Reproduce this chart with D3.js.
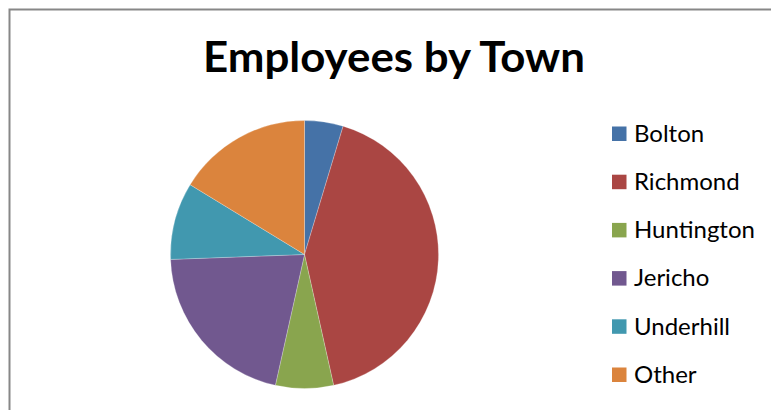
<!DOCTYPE html>
<html>
<head>
<meta charset="utf-8">
<script src="https://cdn.jsdelivr.net/npm/d3@7"></script>
<style>
  html, body { margin: 0; padding: 0; background: #fff; }
  svg { display: block; }
</style>
</head>
<body>
<svg id="chart" width="771" height="410"></svg>
<script>
const categories = ["Bolton", "Richmond", "Huntington", "Jericho", "Underhill", "Other"];
const values = [2, 18, 3, 9, 4, 7];
const colors = ["#4572A7", "#AA4643", "#89A54E", "#71588F", "#4198AF", "#DB843D"];
const title = "Employees by Town";

const svg = d3.select("#chart");
const W = 771, H = 410;

// frame
svg.append("rect")
  .attr("x", 9.5).attr("y", 9.5)
  .attr("width", W + 10).attr("height", H + 10)
  .attr("fill", "#fff")
  .attr("stroke", "#878787")
  .attr("stroke-width", 2);

svg.append("text")
  .attr("x", 203).attr("y", 72)
  .attr("font-family", "Lato, 'Open Sans', sans-serif")
  .attr("font-weight", "bold")
  .attr("font-size", 42)
  .attr("textLength", 382)
  .attr("lengthAdjust", "spacingAndGlyphs")
  .attr("fill", "#000")
  .text(title);

const data = categories.map((c, i) => ({ name: c, value: values[i], color: colors[i] }));
const pie = d3.pie().sort(null).value(d => d.value);
const arc = d3.arc().innerRadius(0).outerRadius(134);
const color = d3.scaleOrdinal().domain(categories).range(colors);

const g = svg.append("g").attr("transform", "translate(304.5,254.5)");
g.selectAll("path")
  .data(pie(data))
  .join("path")
  .attr("d", arc)
  .attr("fill", d => color(d.data.name))
  .attr("stroke", "#fff")
  .attr("stroke-width", 0.4)
  .attr("stroke-opacity", 0.6);

const legendY = d3.scalePoint().domain(categories).range([134, 375]);
const lg = svg.append("g");
const item = lg.selectAll("g")
  .data(categories)
  .join("g")
  .attr("transform", d => `translate(612,${legendY(d)})`);
item.append("rect")
  .attr("x", 0).attr("y", -7.5)
  .attr("width", 14.5).attr("height", 14.5)
  .attr("fill", d => color(d));
item.append("text")
  .attr("x", 22).attr("y", 7.8)
  .attr("font-family", "Lato, 'Open Sans', sans-serif")
  .attr("font-size", 24)
  .attr("fill", "#000")
  .text(d => d);
</script>
</body>
</html>
